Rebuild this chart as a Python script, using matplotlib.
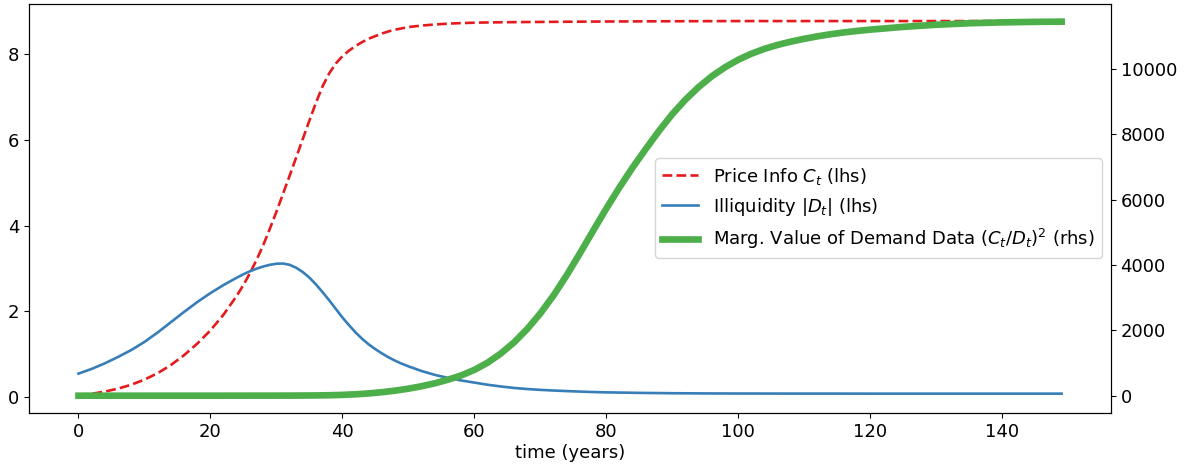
import matplotlib
matplotlib.use("Agg")
import matplotlib.pyplot as plt

# time grid (years) for lhs series (finer around the transition)
t_lhs = [0, 2, 4, 6, 8, 10, 12, 14, 16, 18, 20, 22,
         24, 25, 26, 27, 28, 29, 30, 31, 32, 33, 34, 35, 36, 37, 38, 39, 40,
         41, 42, 43, 44, 45, 46, 47, 48, 49, 50,
         52, 54, 56, 58, 60, 62, 64, 66, 68, 70, 72, 74, 76, 78, 80,
         85, 90, 95, 100, 105, 110, 115, 120, 125, 130, 135, 140, 145, 149]

# Price info C_t (lhs)
price_info = [0.05, 0.08, 0.13, 0.20, 0.29, 0.41, 0.56, 0.75, 0.98, 1.25, 1.56, 1.93,
              2.37, 2.62, 2.90, 3.21, 3.55, 3.93, 4.33, 4.75, 5.17, 5.60, 6.03, 6.46,
              6.88, 7.26, 7.56, 7.79, 7.96,
              8.09, 8.20, 8.29, 8.37, 8.43, 8.49, 8.54, 8.58, 8.61, 8.64,
              8.675, 8.70, 8.72, 8.733, 8.742, 8.748, 8.752, 8.755, 8.758, 8.76,
              8.762, 8.764, 8.766, 8.768, 8.77,
              8.773, 8.776, 8.778, 8.78, 8.78, 8.78, 8.78, 8.78, 8.78, 8.78, 8.78,
              8.78, 8.78, 8.78]

# Illiquidity |D_t| (lhs)
illiquidity = [0.55, 0.66, 0.79, 0.94, 1.10, 1.29, 1.51, 1.75, 1.99, 2.22, 2.43, 2.62,
               2.79, 2.87, 2.94, 3.00, 3.05, 3.09, 3.115, 3.12, 3.09, 3.02, 2.92, 2.79,
               2.63, 2.45, 2.26, 2.06, 1.86,
               1.68, 1.51, 1.36, 1.23, 1.12, 1.02, 0.93, 0.85, 0.78, 0.72,
               0.61, 0.52, 0.45, 0.39, 0.34, 0.29, 0.25, 0.215, 0.19, 0.17,
               0.155, 0.142, 0.130, 0.120, 0.112,
               0.100, 0.092, 0.087, 0.085, 0.084, 0.083, 0.083, 0.082, 0.082, 0.082,
               0.082, 0.082, 0.082, 0.082]

# time grid (years) for rhs series
t_rhs = [0, 5, 10, 15, 20, 25, 30, 32, 34, 36, 38, 40, 42, 44, 46, 48, 50, 52, 54, 56,
         58, 60, 62, 64, 66, 68, 70, 72, 74, 76, 78, 80, 82, 84, 86, 88, 90, 92, 94,
         96, 98, 100, 102, 104, 106, 108, 110, 112, 114, 116, 118, 120,
         125, 130, 135, 140, 145, 149]

# Marginal value of demand data (C_t/D_t)^2 (rhs)
marg_value = [0, 0, 0.1, 0.3, 0.5, 1, 2, 3, 5, 8, 14, 25, 43, 70, 107, 155, 215, 290,
              380, 490, 620, 790, 1010, 1290, 1630, 2040, 2520, 3070, 3690, 4360, 5050,
              5730, 6380, 6990, 7560, 8110, 8620, 9065, 9450, 9780, 10055, 10285, 10470,
              10620, 10740, 10840, 10925, 11000, 11065, 11120, 11165, 11205,
              11290, 11355, 11400, 11428, 11443, 11450]

plt.rcParams['font.size'] = 13

fig = plt.figure(figsize=(11.88, 4.68), dpi=100)
ax = fig.add_axes([0.0247, 0.1175, 0.935 - 0.0247, 0.9925 - 0.1175])
ax2 = ax.twinx()

l1, = ax.plot(t_lhs, price_info, color='#e41a1c', linestyle='--', lw=1.9,
              label='Price Info $C_t$ (lhs)')
l2, = ax.plot(t_lhs, illiquidity, color='#377eb8', lw=1.9,
              label='Illiquidity $|D_t|$ (lhs)')
l3, = ax2.plot(t_rhs, marg_value, color='#4daf4a', lw=4.8,
               label='Marg. Value of Demand Data $(C_t/D_t)^2$ (rhs)')

ax.set_xlim(-7.45, 156.45)
ax.set_ylim(-0.37, 9.19)
ax2.set_ylim(-530, 12005)
ax.set_yticks([0, 2, 4, 6, 8])
ax2.set_yticks([0, 2000, 4000, 6000, 8000, 10000])
ax.set_xticks([0, 20, 40, 60, 80, 100, 120, 140])
ax.set_xlabel('time (years)', labelpad=2)

ax2.legend(handles=[l1, l2, l3], loc='center right', fontsize=13)

fig.savefig('out.png', dpi=100)
